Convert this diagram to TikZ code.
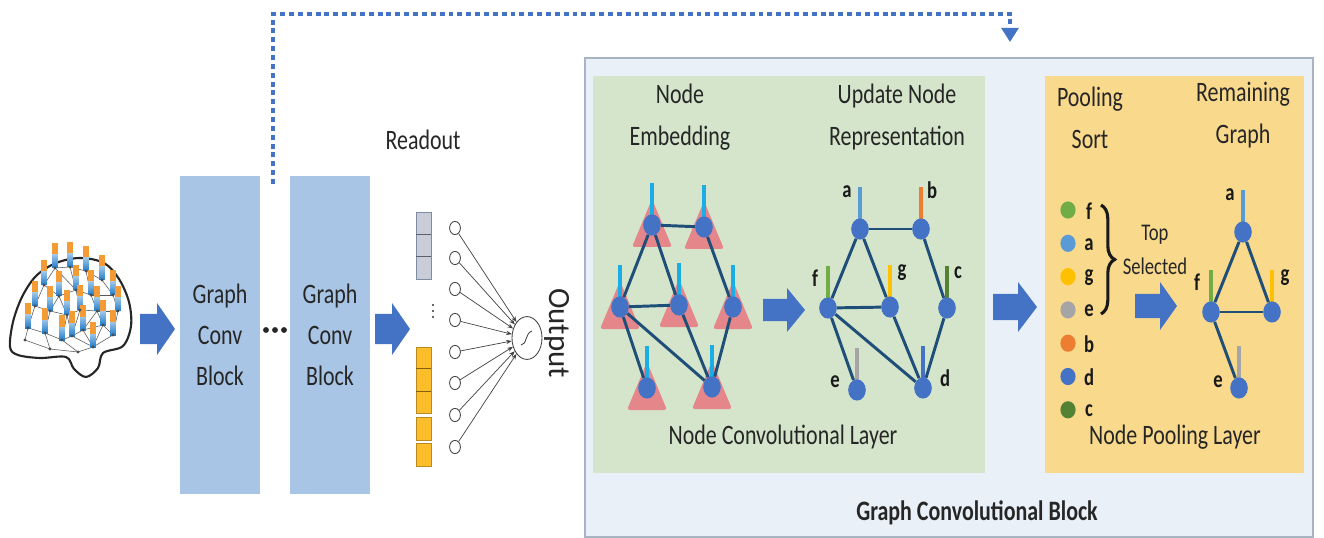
\documentclass[tikz,border=0pt]{standalone}
\usepackage{fontspec}
\setmainfont{Carlito}[FakeStretch=0.78]
\newfontfamily\outfont{Carlito}
\usetikzlibrary{positioning, arrows.meta, calc, shapes.geometric, decorations.pathreplacing}

\definecolor{arrowblue}{HTML}{4472C4}
\definecolor{edgeblue}{HTML}{1F4E79}
\definecolor{blockblue}{HTML}{A9C5E5}
\definecolor{panelblue}{HTML}{EAF0F8}
\definecolor{panelgray}{HTML}{A8B4C4}
\definecolor{panelgreen}{HTML}{D4E5CB}
\definecolor{panelyellow}{HTML}{F9D98B}
\definecolor{tripink}{HTML}{E5868B}
\definecolor{spikecyan}{HTML}{1AADE6}
\definecolor{elecorange}{HTML}{F59B35}
\definecolor{elecblue}{HTML}{1F7BC9}
\definecolor{vecgrayfill}{HTML}{C8CDD7}
\definecolor{vecgrayline}{HTML}{7E8BA0}
\definecolor{vecorangefill}{HTML}{FBBE2A}
\definecolor{vecorangeline}{HTML}{B98A1E}
\definecolor{cola}{HTML}{5B9BD5}
\definecolor{colb}{HTML}{ED7D31}
\definecolor{colc}{HTML}{548235}
\definecolor{cold}{HTML}{4472C4}
\definecolor{cole}{HTML}{A5A5A5}
\definecolor{colf}{HTML}{70AD47}
\definecolor{colg}{HTML}{FFC000}

% block arrow: x, y, length, head length, half body, half head
\newcommand{\fatarrow}[6]{%
  \fill[arrowblue] (#1,#2-#5) -- (#1+#3-#4,#2-#5) -- (#1+#3-#4,#2-#6)
    -- (#1+#3,#2) -- (#1+#3-#4,#2+#6) -- (#1+#3-#4,#2+#5) -- (#1,#2+#5) -- cycle;}

\tikzset{
  txt/.style={font=\fontsize{20}{30}\selectfont, align=center, inner sep=0pt, text=black!85},
  lbl/.style={font=\fontsize{17}{20}\selectfont\bfseries, inner sep=0pt, text=black!90},
  convblock/.style={fill=blockblue, minimum width=2cm, minimum height=7.95cm, inner sep=0pt,
    font=\fontsize{20}{29}\selectfont, align=center, text=black!85},
  gnode/.style={ellipse, fill=arrowblue, minimum width=0.44cm, minimum height=0.53cm, inner sep=0pt},
  gedge/.style={edgeblue, line width=2.1pt},
  spike/.style={line width=2.4pt},
  embtri/.style={fill=tripink, rounded corners=2pt},
  neuron/.style={ellipse, draw=black!75, fill=white, line width=0.6pt,
    minimum width=0.27cm, minimum height=0.33cm, inner sep=0pt},
  wire/.style={black!75, line width=0.5pt, -{Stealth[length=4pt,width=3pt]}},
  feedback/.style={arrowblue, line width=2.2pt, dash pattern=on 3.5pt off 2.8pt,
    -{Triangle[length=10pt,width=12pt]}},
  brainlink/.style={black!65, line width=0.4pt},
  sortdot/.style={ellipse, minimum width=0.38cm, minimum height=0.43cm, inner sep=0pt},
}

\begin{document}
\begin{tikzpicture}[x=0.025cm, y=-0.025cm]
\useasboundingbox (0,0) rectangle (1324,538);

% big block panels
\draw[draw=panelgray, fill=panelblue, line width=1pt] (585,58) rectangle (1313,537);
\fill[panelgreen] (593,76) rectangle (985,473);
\fill[panelyellow] (1045,76) rectangle (1304,473);

% brain with electrodes
\draw[line width=1.5pt, black!85, fill=white] plot[smooth cycle, tension=0.55] coordinates
  {(10,347) (13,322) (22,297) (36,276) (56,263) (80,258) (104,263) (119,279) (129,302)
   (131,326) (123,346) (103,353) (98,368) (86,377) (74,369) (66,357) (40,358) (18,355)};
\foreach \n/\x/\y in {1/55/268, 2/70/267, 3/86/271, 4/102/280, 5/44/285, 6/59/296,
    7/76/290, 8/91/295, 9/113/295, 10/35/306, 11/50/311, 12/67/315, 13/80/310,
    14/97/311, 15/118/311, 16/28/328, 17/45/333, 18/62/340, 19/72/336, 20/83/330,
    21/103/325, 22/113/335, 23/93/347, 24/25/340, 25/50/349, 26/78/352}
  \coordinate (el\n) at (\x,\y);
\foreach \a/\b in {1/2, 2/3, 3/4, 1/5, 1/7, 2/7, 3/8, 4/9, 5/6, 6/7, 7/8, 8/9, 5/10,
    6/11, 6/12, 7/13, 8/14, 9/15, 10/11, 11/12, 12/13, 13/14, 14/15, 10/16, 11/17,
    12/18, 13/19, 14/20, 14/21, 15/22, 16/17, 17/18, 18/19, 19/20, 20/21, 21/22,
    19/23, 20/23, 21/23, 22/23, 16/24, 17/25, 24/25, 25/26, 26/23, 18/26, 12/19}
  \draw[brainlink] (el\a) -- (el\b);
\foreach \n in {1,...,23} {
  \fill[elecorange] ($(el\n)+(-2.8,-25)$) rectangle ($(el\n)+(2.8,-13)$);
  \shade[top color=white!55!elecblue, bottom color=elecblue]
    ($(el\n)+(-2.8,-13)$) rectangle ($(el\n)+(2.8,0)$);
}
\foreach \n in {1,...,26}
  \fill[black!70] (el\n) circle (1.2pt);

\fatarrow{140}{329}{35}{18}{15}{26}

% stacked conv blocks
\node[convblock] (gc1) at (220,335) {Graph\\Conv\\Block};
\node[convblock] (gc2) at (330,335) {Graph\\Conv\\Block};
\foreach \dx in {-9,0,9}
  \fill[black!85] (275+\dx,330) circle (2.1pt);

% feedback into the block detail
\coordinate (fbstart) at (273,184);
\coordinate (fbend) at (1010,42);
\draw[feedback] (fbstart) -- ++(0,-170) -| (fbend);

\fatarrow{375}{329}{35}{18}{15}{26}

% readout
\node[txt] (readout) at (423,140) {Readout};
\draw[fill=vecgrayfill, draw=vecgrayline, line width=0.5pt] (416,212) rectangle (431,279);
\foreach \y in {234,256}
  \draw[vecgrayline!70!black, line width=0.7pt] (416,\y) -- (431,\y);
\draw[fill=vecorangefill, draw=vecorangeline, line width=0.5pt] (416,347) rectangle (431,413);
\foreach \y in {368,391}
  \draw[vecorangeline!70!black, line width=0.7pt] (416,\y) -- (431,\y);
\draw[fill=vecorangefill, draw=vecorangeline, line width=0.5pt] (416,417) rectangle (431,440);
\draw[fill=vecorangefill, draw=vecorangeline, line width=0.5pt] (416,443) rectangle (431,466);
\foreach \y in {305,311,317}
  \fill[black!80] (433,\y) circle (0.8pt);

\foreach \y [count=\i] in {228,258,289,320,352,383,415,447}
  \node[neuron] (in\i) at (455,\y) {};
\node[neuron, minimum width=0.75cm, minimum height=1.07cm] (out) at (527,338) {};
\foreach \i in {1,...,8}
  \draw[wire] (in\i) -- (out);
\draw[black!75, line width=0.6pt] (521,345) .. controls (527,345) and (525,333) .. (532,331);
\node[rotate=-90, inner sep=0pt, text=black!85, font=\outfont\fontsize{22}{26}\selectfont]
  (outtxt) at (557,333) {Output};

% node convolutional layer
\node[txt] (embhead) at (680,117) {Node\\Embedding};
\node[txt] (updhead) at (897,117) {Update Node\\Representation};
\node[txt] (convname) at (783,437) {Node Convolutional Layer};

\foreach \n/\x/\y in {ea/652/225, eb/704/227, ef/620/307, eg/679/305,
    ec/733/307, ee/647/388, ed/712/387} {
  \fill[embtri] (\x-20,\y+22) -- (\x,\y-26) -- (\x+20,\y+22) -- cycle;
  \draw[spike, spikecyan] (\x,\y-42) -- (\x,\y);
  \node[gnode] (\n) at (\x,\y) {};
}
\foreach \a/\b in {ea/eb, ea/ef, ea/eg, eb/ec, ef/eg, ef/ee, ef/ed, eg/ed, ec/ed}
  \draw[gedge] (\a) -- (\b);

\fatarrow{763}{310}{42}{18}{11}{22}

\foreach \n/\x/\y/\c/\l/\dx/\dy in {ra/860/229/cola/a/-13/-37, rb/921/229/colb/b/11/-39,
    rf/828/308/colf/f/-13/-30, rg/890/307/colg/g/12/-34, rc/947/308/colc/c/11/-35,
    re/857/390/cole/e/-22/-8, rd/923/388/cold/d/22/-10} {
  \draw[spike, \c] (\x,\y-42) -- (\x,\y);
  \node[gnode] (\n) at (\x,\y) {};
  \node[lbl] at (\x+\dx,\y+\dy) {\l};
}
\foreach \a/\b in {ra/rb, ra/rf, ra/rg, rb/rc, rf/rg, rf/re, rf/rd, rg/rd, rc/rd}
  \draw[gedge] (\a) -- (\b);

\fatarrow{993}{307}{44}{19}{13}{25}

% node pooling layer
\node[txt] (sorthead) at (1090,118) {Pooling\\Sort};
\node[txt] (remhead) at (1243,115) {Remaining\\Graph};
\node[txt] (poolname) at (1175,437) {Node Pooling Layer};

\foreach \c/\l [count=\i] in {colf/f, cola/a, colg/g, cole/e, colb/b, cold/d, colc/c} {
  \node[sortdot, fill=\c] (s\l) at (1068,176.7+33.3*\i) {};
  \node[lbl] (t\l) at (1089,177.7+33.3*\i) {\l};
}
\draw[decorate, decoration={brace, amplitude=0.34cm}, line width=2.2pt, black!90]
  (1101,205) -- (1101,314);
\node[txt, font=\fontsize{17}{24}\selectfont] (topsel) at (1155,250) {Top\\Selected};

\fatarrow{1135}{306}{42}{17}{12}{24}

\foreach \n/\x/\y/\c/\l/\dx/\dy in {pa/1243/232/cola/a/-13/-37, pf/1211/312/colf/f/-14/-30,
    pg/1272/312/colg/g/13/-34, pe/1239/388/cole/e/-21/-6} {
  \draw[spike, \c] (\x,\y-42) -- (\x,\y);
  \node[gnode] (\n) at (\x,\y) {};
  \node[lbl] at (\x+\dx,\y+\dy) {\l};
}
\foreach \a/\b in {pa/pf, pa/pg, pf/pg, pf/pe}
  \draw[gedge] (\a) -- (\b);

\node[txt, font=\fontsize{20}{30}\selectfont\bfseries] (blockname) at (977,513)
  {Graph Convolutional Block};
\end{tikzpicture}
\end{document}
